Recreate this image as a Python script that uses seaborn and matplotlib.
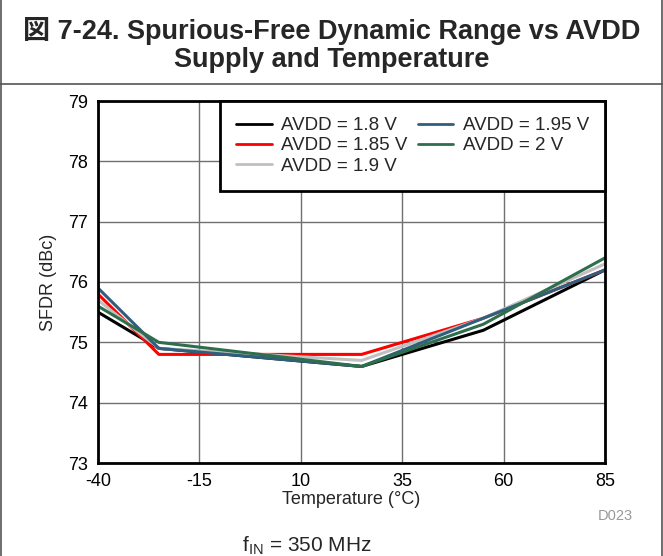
import pandas as pd
import matplotlib
matplotlib.use("Agg")
import matplotlib.pyplot as plt
from matplotlib.lines import Line2D
import seaborn as sns

# data
temps = [-40, -25, 25, 55, 85]
sfdr_18 = [75.5, 74.9, 74.6, 75.2, 76.2]
sfdr_185 = [75.8, 74.8, 74.8, 75.4, 76.2]
sfdr_19 = [75.7, 74.9, 74.7, 75.4, 76.3]
sfdr_195 = [75.9, 74.9, 74.6, 75.4, 76.2]
sfdr_2 = [75.6, 75.0, 74.6, 75.3, 76.4]
labels = ["AVDD = 1.8 V", "AVDD = 1.85 V", "AVDD = 1.9 V", "AVDD = 1.95 V", "AVDD = 2 V"]
colors = ["#000000", "#ff0000", "#c0c0c0", "#2f5f7d", "#2e6e4c"]
x_ticks = [-40, -15, 10, 35, 60, 85]


def build_frame():
    """Stack the series into a long table for seaborn."""
    rows = []
    for lab, vals in zip(labels, [sfdr_18, sfdr_185, sfdr_19, sfdr_195, sfdr_2]):
        for t, v in zip(temps, vals):
            rows.append({"temp": t, "sfdr": v, "supply": lab})
    return pd.DataFrame(rows)


def main():
    sns.set_style("white")
    plt.rcParams["font.family"] = ["Liberation Sans", "Noto Sans CJK JP", "DejaVu Sans"]
    plt.rcParams["axes.unicode_minus"] = False

    fig = plt.figure(figsize=(6.63, 5.56), dpi=100)
    ax = fig.add_axes([98 / 663, 1 - 463 / 556, 507 / 663, 362 / 556])

    df = build_frame()
    sns.lineplot(data=df, x="temp", y="sfdr", hue="supply", hue_order=labels,
                 palette=colors, linewidth=2.2, ax=ax, legend=False)

    ax.set_xlim(-40, 85)
    ax.set_ylim(73, 79)
    ax.set_xticks(x_ticks)
    ax.set_yticks(range(73, 80))
    ax.grid(True, color="#707070", linewidth=1)
    ax.tick_params(length=0, labelsize=13, colors="black", pad=7)
    for s in ax.spines.values():
        s.set_visible(True)
        s.set_color("black")
        s.set_linewidth(2)
    ax.set_xlabel("Temperature (°C)", fontsize=13, labelpad=1)
    ax.set_ylabel("SFDR (dBc)", fontsize=13, labelpad=8)

    handles = [Line2D([], [], color=c, linewidth=2) for c in colors]
    leg = ax.legend(handles, labels, ncol=2, loc="upper right", fontsize=13.5,
                    frameon=True, fancybox=False, framealpha=1, edgecolor="black",
                    borderaxespad=0, handlelength=1.9, columnspacing=0.55,
                    handletextpad=0.5, labelspacing=0.17, borderpad=0.85)
    leg.get_frame().set_linewidth(2)

    # title block with its box lines
    fig.text(0.5, 1 - 45 / 556, "図 7-24. Spurious-Free Dynamic Range vs AVDD\nSupply and Temperature",
             ha="center", va="center", fontsize=19.5, fontweight="bold", linespacing=1.12)
    fig.add_artist(Line2D([0, 1], [1 - 84 / 556] * 2, color="#555555", linewidth=1.2))
    fig.add_artist(Line2D([0.001, 0.001], [0, 1], color="#555555", linewidth=1.2))
    fig.add_artist(Line2D([0.999, 0.999], [0, 1], color="#555555", linewidth=1.2))

    fig.text(633 / 663, 1 - 516 / 556, "D023", ha="right", va="center", fontsize=10.5, color="#999999")
    fig.text(307 / 663, 1 - 546 / 556, r"f$_{\mathregular{IN}}$ = 350 MHz",
             ha="center", va="center", fontsize=15)

    fig.savefig("out.png", dpi=100)


if __name__ == "__main__":
    main()
